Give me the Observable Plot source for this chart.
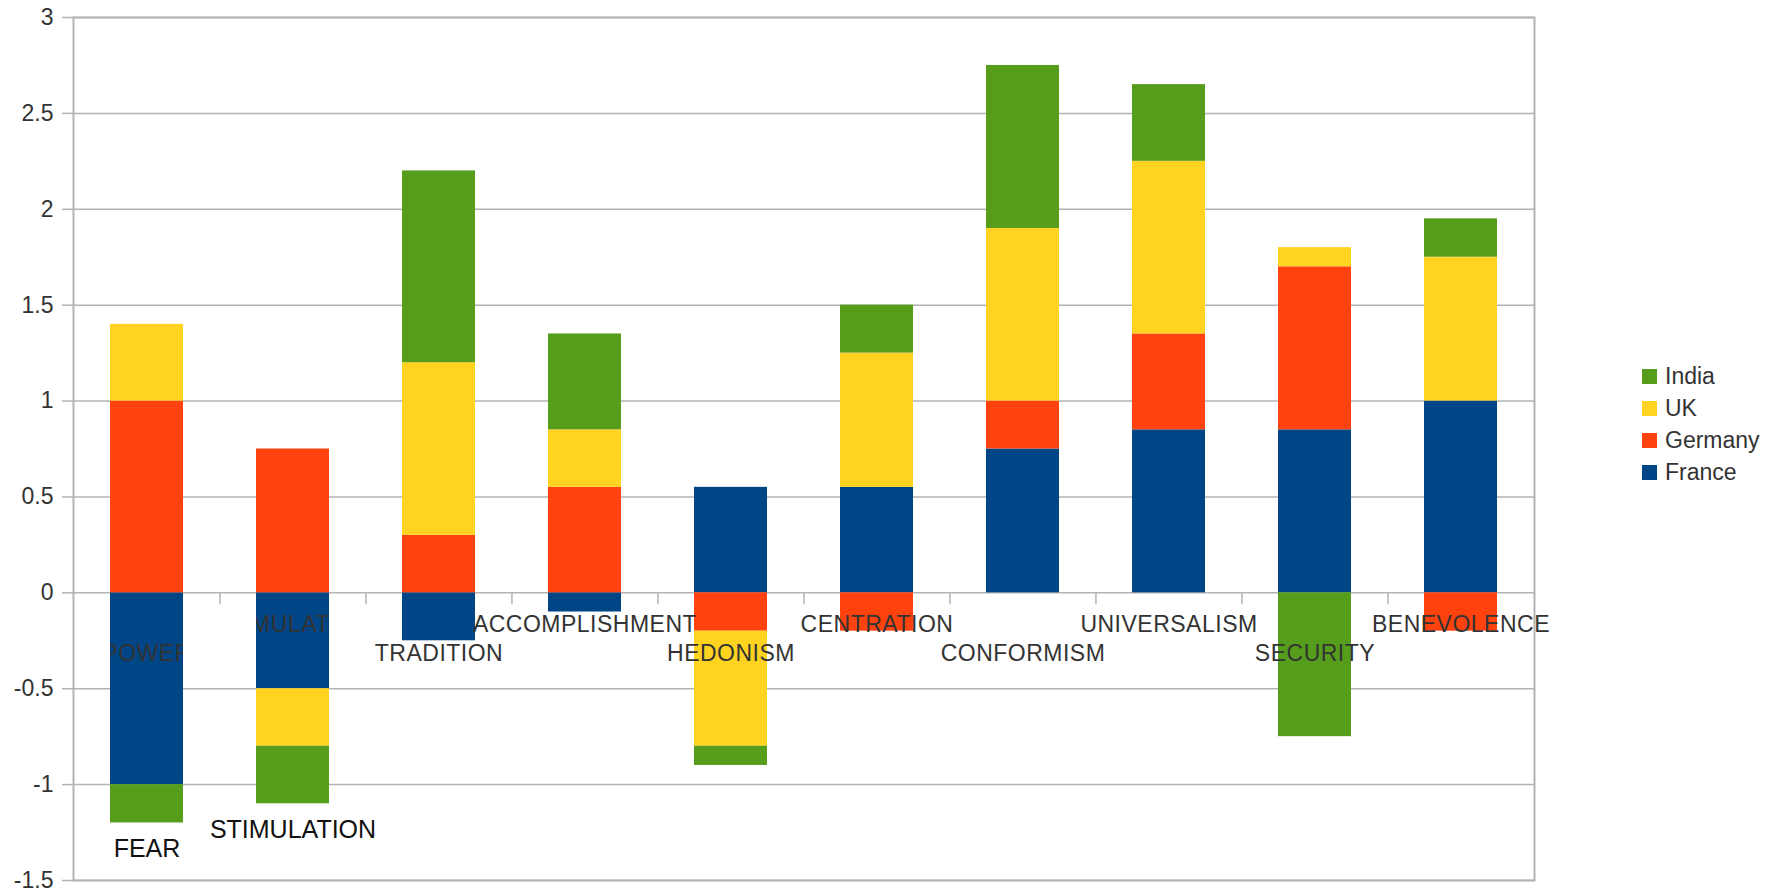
<!DOCTYPE html>
<html>
<head>
<meta charset="utf-8">
<script src="https://cdn.jsdelivr.net/npm/d3@7"></script>
<script src="https://cdn.jsdelivr.net/npm/@observablehq/plot@0.6"></script>
<style>
  html, body { margin: 0; padding: 0; background: #fff; }
  #wrap { position: relative; width: 1783px; height: 894px; overflow: hidden; font-family: "Liberation Sans", Arial, sans-serif; }
  #legend { position: absolute; left: 1642px; top: 360px; color: #333; font-size: 23px; }
  #legend .row { display: flex; align-items: center; height: 32px; }
  #legend .sw { width: 15px; height: 15px; margin-right: 8px; }
</style>
</head>
<body>
<div id="wrap"><div id="legend"></div></div>
<script>
// ---- data ----
const categories = ["POWER","STIMULATION","TRADITION","ACCOMPLISHMENT","HEDONISM","CENTRATION","CONFORMISM","UNIVERSALISM","SECURITY","BENEVOLENCE"];
const countries = ["France","Germany","UK","India"];
const france  = [-1,   -0.5, -0.25, -0.1,  0.55,  0.55, 0.75, 0.85, 0.85,  1.0];
const germany = [ 1,    0.75, 0.3,   0.55, -0.2,  -0.2,  0.25, 0.5,  0.85, -0.2];
const uk      = [ 0.4, -0.3,  0.9,   0.3,  -0.6,   0.7,  0.9,  0.9,  0.1,   0.75];
const india   = [-0.2, -0.3,  1.0,   0.5,  -0.1,   0.25, 0.85, 0.4, -0.75,  0.2];
const colors = ["#004586","#ff420e","#ffd320","#579d1c"];
const yTicks = [-1.5,-1,-0.5,0,0.5,1,1.5,2,2.5,3];
const legendOrder = ["India","UK","Germany","France"];
const annotations = [{category:"POWER", text:"FEAR"},{category:"STIMULATION", text:"STIMULATION"}];
const clippedLabels = ["POWER","STIMULATION"];

// ---- build table ----
const seriesValues = [france, germany, uk, india];
const rows = [];
categories.forEach((c, i) => {
  countries.forEach((k, j) => rows.push({category: c, country: k, value: seriesValues[j][i]}));
});
const negSum = c => {
  const i = categories.indexOf(c);
  return seriesValues.reduce((s, arr) => s + Math.min(0, arr[i]), 0);
};
const annData = annotations.map(a => ({...a, y: negSum(a.category)}));

const W = 1783, H = 894, ML = 73, MR = 249, MT = 17, MB = 14;
const step = (W - ML - MR) / categories.length;
const gray = "#b3b3b3";
const LFS = 23;

const labelsA = categories.filter((c, i) => i % 2 === 1 && !clippedLabels.includes(c));
const labelsB = categories.filter((c, i) => i % 2 === 0 && !clippedLabels.includes(c));
const clipA = categories.filter((c, i) => i % 2 === 1 && clippedLabels.includes(c));
const clipB = categories.filter((c, i) => i % 2 === 0 && clippedLabels.includes(c));

const chart = Plot.plot({
  width: W, height: H,
  marginLeft: ML, marginRight: MR, marginTop: MT, marginBottom: MB,
  style: {fontFamily: "Liberation Sans, Arial, sans-serif", fontSize: "22px", color: "#333", background: "#fff"},
  x: {type: "band", domain: categories, paddingInner: 0.5, paddingOuter: 0.25, axis: null},
  y: {domain: [-1.5, 3], axis: null},
  color: {domain: countries, range: colors},
  marks: [
    Plot.gridY(yTicks, {stroke: gray, strokeOpacity: 1, strokeWidth: 1.5}),
    Plot.frame({stroke: gray, strokeWidth: 2}),
    Plot.barY(rows, {x: "category", y: "value", fill: "country"}),
    Plot.ruleX(categories.slice(1), {x: d => d, y1: 0, y2: 0, insetBottom: -12, dx: -step / 2, stroke: gray, strokeWidth: 1.5}),
    Plot.text(labelsA, {x: d => d, y: 0, dy: 32, text: d => d, fill: "#333", fontSize: LFS}),
    Plot.text(labelsB, {x: d => d, y: 0, dy: 61, text: d => d, fill: "#333", fontSize: LFS}),
    Plot.text(clipA, {x: d => d, y: 0, dy: 32, text: d => d, fill: "#333", fontSize: LFS}),
    Plot.text(clipB, {x: d => d, y: 0, dy: 61, text: d => d, fill: "#333", fontSize: LFS}),
    Plot.text(annData, {x: "category", y: "y", dy: 26, text: "text", fill: "#111", fontSize: 25}),
    Plot.axisY(yTicks, {tickSize: 11, tickPadding: 9, stroke: gray, strokeWidth: 1.5, fill: "#333", fontSize: 23, label: null, tickFormat: d => String(d)})
  ]
});

// clip the two labels to their bar widths (text mark groups 2 and 3)
const xs = chart.scale("x");
const ns = "http://www.w3.org/2000/svg";
const defs = document.createElementNS(ns, "defs");
chart.insertBefore(defs, chart.firstChild);
const textGroups = Array.from(chart.querySelectorAll('g[aria-label="text"]'));
textGroups.slice(0, 4).forEach(g => g.setAttribute("letter-spacing", "0.5"));
let k = 0;
[textGroups[2], textGroups[3]].forEach(g => {
  if (!g) return;
  const tf = g.transform && g.transform.baseVal && g.transform.baseVal.numberOfItems
    ? g.transform.baseVal.consolidate().matrix.e : 0;
  Array.from(g.querySelectorAll("text")).forEach(t => {
    const cat = t.textContent;
    if (!clippedLabels.includes(cat)) return;
    const id = "lblclip" + (k++);
    const cp = document.createElementNS(ns, "clipPath");
    cp.setAttribute("id", id);
    cp.setAttribute("clipPathUnits", "userSpaceOnUse");
    const r = document.createElementNS(ns, "rect");
    r.setAttribute("x", xs.apply(cat) - tf);
    r.setAttribute("y", -10000);
    r.setAttribute("width", xs.bandwidth);
    r.setAttribute("height", 20000);
    cp.appendChild(r);
    defs.appendChild(cp);
    const wrapG = document.createElementNS(ns, "g");
    wrapG.setAttribute("clip-path", `url(#${id})`);
    t.parentNode.insertBefore(wrapG, t);
    wrapG.appendChild(t);
  });
});

const wrap = document.getElementById("wrap");
wrap.insertBefore(chart, wrap.firstChild);

// legend
const legend = document.getElementById("legend");
legendOrder.forEach(name => {
  const row = document.createElement("div");
  row.className = "row";
  const sw = document.createElement("div");
  sw.className = "sw";
  sw.style.background = colors[countries.indexOf(name)];
  const lab = document.createElement("span");
  lab.textContent = name;
  row.appendChild(sw); row.appendChild(lab);
  legend.appendChild(row);
});
</script>
</body>
</html>
